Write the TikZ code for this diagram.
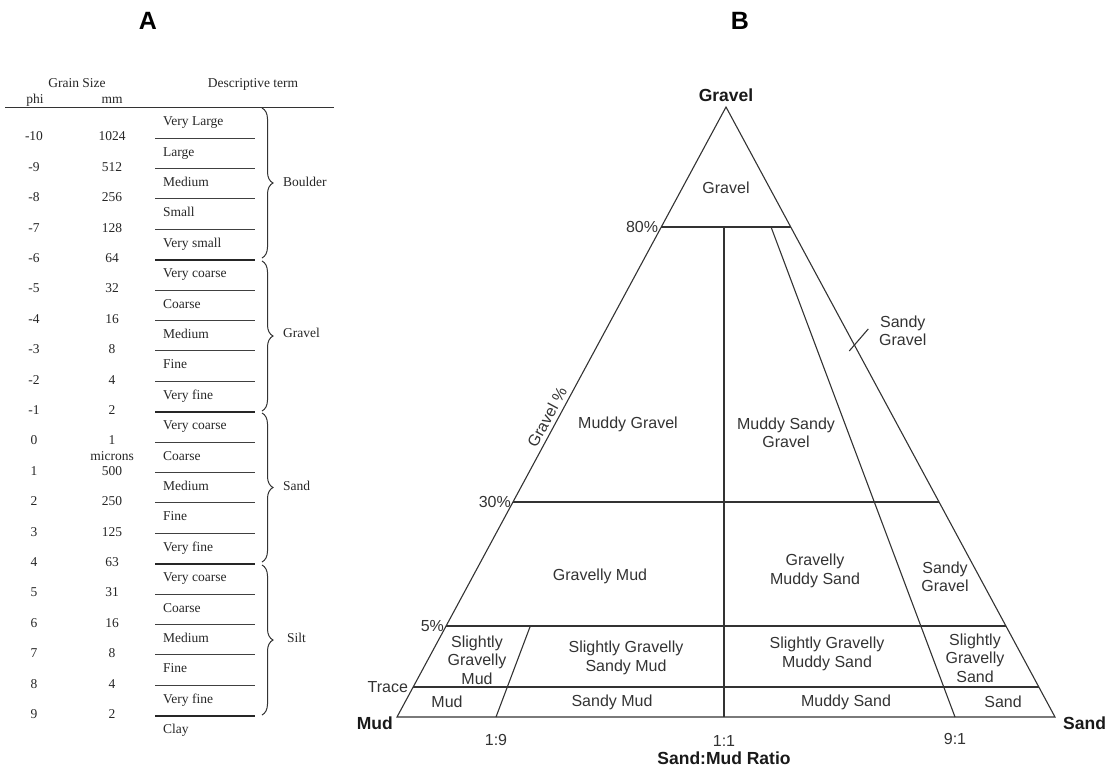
\documentclass[tikz,border=0pt]{standalone}
\usepackage{fontspec}
\setmainfont{Liberation Serif}
\setsansfont{Liberation Sans}
\usetikzlibrary{
  calc,
  decorations.pathreplacing,
  positioning
}

\begin{document}
\begin{tikzpicture}[
      x=1pt, y=-1pt,
      grain/.style={
         inner sep=0pt,
         font=\rmfamily\fontsize{13.5}{15}\selectfont,
         text=black!85,
         text height=1.5ex,
         text depth=.25ex
      },
      term/.style={grain, anchor=west},
      rule/.style={line width=0.8pt, draw=black!75},
      class rule/.style={line width=2.2pt, draw=black!85},
      class brace/.style={
         decorate,
         decoration={brace, amplitude=11pt},
         line width=1pt, draw=black!80
      },
      field/.style={
         align=center,
         inner sep=0pt,
         font=\sffamily\fontsize{16}{18.5}\selectfont,
         text=black!80
      },
      corner/.style={field, font=\sffamily\bfseries\fontsize{17.5}{20}\selectfont, text=black!90},
      panel/.style={inner sep=0pt, font=\sffamily\bfseries\fontsize{25}{28}\selectfont},
      edge/.style={line width=1.1pt, draw=black!80},
    ]
    \useasboundingbox (0,0) rectangle (1107,769);

    % panel letters
    \node (panelA) [panel] at (148,21) {A};
    \node (panelB) [panel] at (740,21) {B};

    % ---- A: grain size table ----
    \node (hgrain) [grain] at (77,85) {Grain Size};
    \node (hterm)  [grain] at (253,85) {Descriptive term};
    \node (hphi)   [grain] at (35,101) {phi};
    \node (hmm)    [grain] at (112,101) {mm};
    \draw[line width=1pt, draw=black!80] (5,107) -- (334,107);

    \node (p0)  [grain] at (34,138.0) {-10};  \node (m0)  [grain] at (112,138.0) {1024};
    \node (p1)  [grain] at (34,168.4) {-9};   \node (m1)  [grain] at (112,168.4) {512};
    \node (p2)  [grain] at (34,198.8) {-8};   \node (m2)  [grain] at (112,198.8) {256};
    \node (p3)  [grain] at (34,229.2) {-7};   \node (m3)  [grain] at (112,229.2) {128};
    \node (p4)  [grain] at (34,259.6) {-6};   \node (m4)  [grain] at (112,259.6) {64};
    \node (p5)  [grain] at (34,290.0) {-5};   \node (m5)  [grain] at (112,290.0) {32};
    \node (p6)  [grain] at (34,320.4) {-4};   \node (m6)  [grain] at (112,320.4) {16};
    \node (p7)  [grain] at (34,350.8) {-3};   \node (m7)  [grain] at (112,350.8) {8};
    \node (p8)  [grain] at (34,381.2) {-2};   \node (m8)  [grain] at (112,381.2) {4};
    \node (p9)  [grain] at (34,411.6) {-1};   \node (m9)  [grain] at (112,411.6) {2};
    \node (p10) [grain] at (34,442.0) {0};    \node (m10) [grain] at (112,442.0) {1};
    \node (mic) [grain] at (112,457.2) {microns};
    \node (p11) [grain] at (34,472.4) {1};    \node (m11) [grain] at (112,472.4) {500};
    \node (p12) [grain] at (34,502.8) {2};    \node (m12) [grain] at (112,502.8) {250};
    \node (p13) [grain] at (34,533.2) {3};    \node (m13) [grain] at (112,533.2) {125};
    \node (p14) [grain] at (34,563.6) {4};    \node (m14) [grain] at (112,563.6) {63};
    \node (p15) [grain] at (34,594.0) {5};    \node (m15) [grain] at (112,594.0) {31};
    \node (p16) [grain] at (34,624.4) {6};    \node (m16) [grain] at (112,624.4) {16};
    \node (p17) [grain] at (34,654.8) {7};    \node (m17) [grain] at (112,654.8) {8};
    \node (p18) [grain] at (34,685.2) {8};    \node (m18) [grain] at (112,685.2) {4};
    \node (p19) [grain] at (34,715.6) {9};    \node (m19) [grain] at (112,715.6) {2};

    \node (t0)  [term] at (163,122.8) {Very Large};
    \node (t1)  [term] at (163,153.2) {Large};
    \node (t2)  [term] at (163,183.6) {Medium};
    \node (t3)  [term] at (163,214.0) {Small};
    \node (t4)  [term] at (163,244.4) {Very small};
    \node (t5)  [term] at (163,274.8) {Very coarse};
    \node (t6)  [term] at (163,305.2) {Coarse};
    \node (t7)  [term] at (163,335.6) {Medium};
    \node (t8)  [term] at (163,366.0) {Fine};
    \node (t9)  [term] at (163,396.4) {Very fine};
    \node (t10) [term] at (163,426.8) {Very coarse};
    \node (t11) [term] at (163,457.2) {Coarse};
    \node (t12) [term] at (163,487.6) {Medium};
    \node (t13) [term] at (163,518.0) {Fine};
    \node (t14) [term] at (163,548.4) {Very fine};
    \node (t15) [term] at (163,578.8) {Very coarse};
    \node (t16) [term] at (163,609.2) {Coarse};
    \node (t17) [term] at (163,639.6) {Medium};
    \node (t18) [term] at (163,670.0) {Fine};
    \node (t19) [term] at (163,700.4) {Very fine};
    \node (t20) [term] at (163,730.8) {Clay};

    \draw[rule] (155,138.0) -- ++(100,0);
    \draw[rule] (155,168.4) -- ++(100,0);
    \draw[rule] (155,198.8) -- ++(100,0);
    \draw[rule] (155,229.2) -- ++(100,0);
    \draw[class rule] (155,259.6) -- ++(100,0);
    \draw[rule] (155,290.0) -- ++(100,0);
    \draw[rule] (155,320.4) -- ++(100,0);
    \draw[rule] (155,350.8) -- ++(100,0);
    \draw[rule] (155,381.2) -- ++(100,0);
    \draw[class rule] (155,411.6) -- ++(100,0);
    \draw[rule] (155,442.0) -- ++(100,0);
    \draw[rule] (155,472.4) -- ++(100,0);
    \draw[rule] (155,502.8) -- ++(100,0);
    \draw[rule] (155,533.2) -- ++(100,0);
    \draw[class rule] (155,563.6) -- ++(100,0);
    \draw[rule] (155,594.0) -- ++(100,0);
    \draw[rule] (155,624.4) -- ++(100,0);
    \draw[rule] (155,654.8) -- ++(100,0);
    \draw[rule] (155,685.2) -- ++(100,0);
    \draw[class rule] (155,715.6) -- ++(100,0);

    \draw[class brace] (262,108) -- (262,258);
    \draw[class brace] (262,261) -- (262,411);
    \draw[class brace] (262,413) -- (262,562);
    \draw[class brace] (262,565) -- (262,715);
    \node (cboulder) [term] at (283,184) {Boulder};
    \node (cgravel)  [term] at (283,335) {Gravel};
    \node (csand)    [term] at (283,488) {Sand};
    \node (csilt)    [term] at (287,640) {Silt};

    % ---- B: gravel-sand-mud triangle ----
    \coordinate (apex) at (726,107);
    \coordinate (mud)  at (397,717);
    \coordinate (sand) at (1055,717);
    \coordinate (r19)  at (496,717);
    \coordinate (r11)  at (724,717);
    \coordinate (r91)  at (955,717);

    \coordinate (g80l) at ($(apex)!0.1967!(mud)$);
    \coordinate (g80r) at ($(apex)!0.1967!(sand)$);
    \coordinate (g30l) at ($(apex)!0.6475!(mud)$);
    \coordinate (g30r) at ($(apex)!0.6475!(sand)$);
    \coordinate (g5l)  at ($(apex)!0.8508!(mud)$);
    \coordinate (g5r)  at ($(apex)!0.8508!(sand)$);
    \coordinate (trl)  at ($(apex)!0.9508!(mud)$);
    \coordinate (trr)  at ($(apex)!0.9508!(sand)$);
    \coordinate (sg)   at ($(apex)!0.39!(sand)$);

    \draw[edge] (apex) -- (mud) -- (sand) -- cycle;
    \draw[edge] (g80l) -- (g80r);
    \draw[edge] (g30l) -- (g30r);
    \draw[edge] (g5l) -- (g5r);
    \draw[edge] (trl) -- (trr);
    \draw[edge] (r11 |- g80l) -- (r11);
    \draw[edge] ($(apex)!0.8508!(r19)$) -- (r19);
    \draw[edge] ($(apex)!0.1967!(r91)$) -- (r91);
    \draw[edge] ($(sg)+(14,-16)$) -- ($(sg)+(-5,6)$);

    \node (lgravel) [corner, anchor=base] at (726,101) {Gravel};
    \node (lmud)    [corner, anchor=east] at ($(mud)+(-4,6)$) {Mud};
    \node (lsand)   [corner, anchor=west] at ($(sand)+(8,6)$) {Sand};

    \node (l80)   [field, anchor=east] at ($(g80l)+(-3,0)$) {80\%};
    \node (l30)   [field, anchor=east] at ($(g30l)+(-2,0)$) {30\%};
    \node (l5)    [field, anchor=east] at ($(g5l)+(-2,0)$) {5\%};
    \node (ltr)   [field, anchor=east] at ($(trl)+(-5,0)$) {Trace};
    \node (laxis) [field, rotate=61.7] at (547,417) {Gravel \%};

    \node (fg)    [field] at (726,188) {Gravel};
    \node (fmg)   [field] at (628,424) {Muddy Gravel};
    \node (fmsg)  [field] at (786,433) {Muddy Sandy\\Gravel};
    \node (fsg)   [field, anchor=west] at (879,331) {Sandy\\Gravel};
    \node (fgm)   [field] at (600,576) {Gravelly Mud};
    \node (fgms)  [field] at (815,571) {Gravelly\\Muddy Sand};
    \node (fsg2)  [field] at (945,577) {Sandy\\Gravel};
    \node (fsgm)  [field] at (477,660) {Slightly\\Gravelly\\Mud};
    \node (fsgsm) [field] at (626,658) {Slightly Gravelly\\Sandy Mud};
    \node (fsgms) [field] at (827,654) {Slightly Gravelly\\Muddy Sand};
    \node (fsgs)  [field] at (975,658) {Slightly\\Gravelly\\Sand};
    \node (fm)    [field] at (447,702) {Mud};
    \node (fsm)   [field] at (612,702) {Sandy Mud};
    \node (fms)   [field] at (846,702) {Muddy Sand};
    \node (fs)    [field] at (1003,702) {Sand};

    \node (q19)   [field] at ($(r19)+(0,23)$) {1:9};
    \node (q11)   [field] at ($(r11)+(0,24)$) {1:1};
    \node (q91)   [field] at ($(r91)+(0,22)$) {9:1};
    \node (ratio) [corner] at (724,758) {Sand:Mud Ratio};
\end{tikzpicture}
\end{document}
